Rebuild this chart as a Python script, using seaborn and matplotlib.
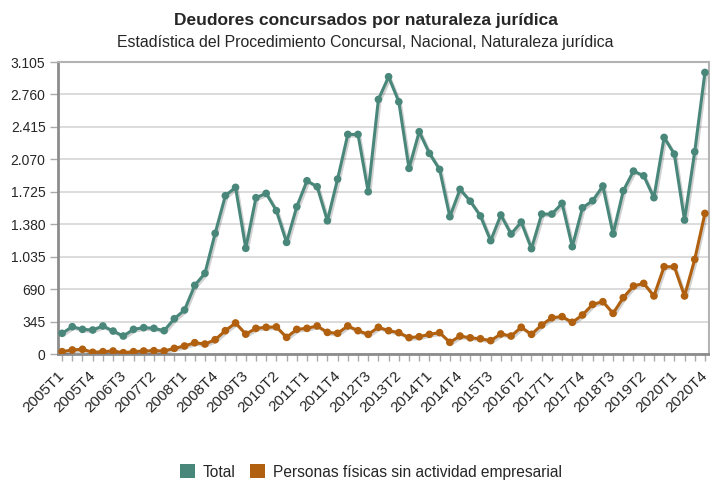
import matplotlib
matplotlib.use("Agg")
import matplotlib.pyplot as plt
import matplotlib.patheffects as pe
import matplotlib.transforms as mtransforms
from matplotlib.patches import Patch
from matplotlib.ticker import FuncFormatter
import numpy as np
import pandas as pd
import seaborn as sns

years = list(range(2005, 2021))
quarters = [f"{y}T{q}" for y in years for q in range(1, 5)]

total = [220, 290, 262, 255, 298, 244, 191, 262, 280, 273, 248, 375, 468, 730, 858, 1283,
         1683, 1772, 1124, 1662, 1708, 1524, 1187, 1566, 1842, 1779, 1417, 1860, 2335, 2335, 1725, 2707,
         2948, 2682, 1974, 2364, 2133, 1963, 1460, 1751, 1625, 1468, 1205, 1478, 1276, 1403, 1120, 1488,
         1488, 1602, 1141, 1555, 1630, 1786, 1276, 1736, 1945, 1895, 1662, 2303, 2126, 1424, 2151, 2994]
personas = [25, 43, 50, 18, 25, 32, 14, 25, 32, 35, 32, 60, 85, 120, 106, 152,
            248, 330, 211, 273, 284, 288, 177, 262, 273, 298, 230, 220, 298, 248, 209, 284,
            248, 227, 174, 184, 209, 227, 124, 191, 172, 162, 142, 213, 191, 284, 209, 308,
            386, 397, 337, 415, 528, 556, 432, 599, 723, 751, 617, 928, 928, 617, 1006, 1495]

series_names = ["Total", "Personas físicas sin actividad empresarial"]
colors = ["#4a877b", "#b0600f"]

df = pd.DataFrame({
    "idx": list(range(len(quarters))) * 2,
    "valor": total + personas,
    "serie": [series_names[0]] * len(quarters) + [series_names[1]] * len(quarters),
})

sns.set_theme(style="white")
plt.rcParams["font.family"] = ["Liberation Sans", "DejaVu Sans"]

fig = plt.figure(figsize=(7.10, 4.82), dpi=100)
ax = fig.add_axes([58 / 710, 1 - 354 / 482, 651 / 710, 292 / 482])

sns.lineplot(data=df, x="idx", y="valor", hue="serie", palette=colors,
             marker="o", markersize=5.5, markeredgewidth=0, linewidth=2.2,
             legend=False, ax=ax, zorder=3)
for ln in ax.get_lines():
    ln.set_path_effects([pe.SimpleLineShadow(offset=(1.2, -1.2), alpha=0.18, shadow_color="black"),
                         pe.Normal()])

ax.set_xlim(-0.4, len(quarters) - 0.6)
ax.set_ylim(0, 3105)
yt = np.arange(0, 3106, 345)
ax.set_yticks(yt)
ax.yaxis.set_major_formatter(FuncFormatter(lambda v, p: f"{int(round(v)):,}".replace(",", ".")))
ax.grid(axis="y", color="#d9d9d9", linewidth=1.3)
ax.set_axisbelow(True)

ax.set_xticks(range(0, len(quarters), 3))
ax.set_xticklabels(quarters[::3], rotation=45, ha="right", va="center", rotation_mode="anchor")
ax.set_xticks(range(len(quarters)), minor=True)
ax.tick_params(axis="x", which="both", direction="out", length=5, color="#aaaaaa", width=1,
               bottom=True, labelsize=11, pad=4)
ax.tick_params(axis="y", which="major", direction="out", length=6, color="#aaaaaa", width=1,
               left=True, labelsize=10, pad=3)
offset = mtransforms.ScaledTranslation(0.5 / 100, -7 / 100, fig.dpi_scale_trans)
for lbl in ax.get_xticklabels():
    lbl.set_transform(lbl.get_transform() + offset)
ax.set_xlabel("")
ax.set_ylabel("")

for side in ["left", "bottom"]:
    ax.spines[side].set_color("#8c8c8c")
    ax.spines[side].set_linewidth(2.0)
for side in ["top", "right"]:
    ax.spines[side].set_color("#b3b3b3")
    ax.spines[side].set_linewidth(1.5)

fig.text(0.515, 1 - 20 / 482, "Deudores concursados por naturaleza jurídica",
         ha="center", va="center", fontsize=12.5, fontweight="bold")
fig.text(0.515, 1 - 42 / 482, "Estadística del Procedimiento Concursal, Nacional, Naturaleza jurídica",
         ha="center", va="center", fontsize=11.4)

handles = [Patch(facecolor=c, edgecolor="none") for c in colors]
fig.legend(handles, series_names, loc="center", bbox_to_anchor=(371 / 710, 1 - 472 / 482),
           ncol=2, frameon=False, fontsize=11.2, handlelength=1.0, handleheight=1.0,
           handletextpad=0.5, columnspacing=0.9)

fig.savefig("out.png", dpi=100)
